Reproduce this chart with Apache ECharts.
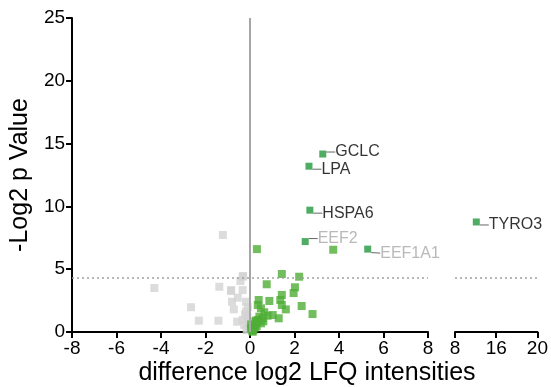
<!DOCTYPE html>
<html>
<head>
<meta charset="utf-8">
<script src="https://cdn.jsdelivr.net/npm/echarts@6/dist/echarts.min.js"></script>
<style>
  html, body { margin: 0; padding: 0; background: #fff; }
  #chart { width: 551px; height: 387px; }
</style>
</head>
<body>
<div id="chart"></div>
<script>
// not significant (grey)
const grayX = [-4.3, -2.65, -2.3, -1.42, -1.22, -1.38, -0.85, -0.85, -0.81, -0.73, -0.58, -0.55,
  -0.43, -0.33, -0.33, -0.31, -0.26, -0.18, -0.18, -0.33, -0.12, -0.08, -0.22, -0.05, -0.15, -0.1];
const grayY = [3.5, 1.97, 0.9, 0.9, 7.72, 3.6, 3.26, 3.34, 2.41, 1.8, 0.82, 2.73,
  4.06, 4.4, 3.34, 4.46, 0.56, 2.41, 1.62, 0.96, 1.2, 0.3, 1.4, 0.8, 0.15, 2.0];

// up-regulated (green)
const greenX = [0.31, 3.74, 1.43, 2.21, 0.75, 2.02, 1.96, 1.43, 0.87, 0.39, 1.36, 1.43, 1.61, 2.32,
  2.81, 1.29, 1.02, 0.49, 0.35, 0.64, 0.79, 0.42, 0.27, 0.49, 0.19, 0.04, 0.12, 0.35, 0.57, 0.05,
  0.22, 0.15, 0.3, 0.1, 0.25, 0.6];
const greenY = [6.6, 6.55, 4.62, 4.4, 3.8, 3.56, 3.1, 2.95, 2.47, 2.55, 2.55, 2.15, 1.8, 2.07,
  1.43, 1.09, 1.35, 1.89, 2.15, 1.57, 1.3, 1.22, 0.82, 0.69, 0.56, 0.29, 0.02, 0.96, 1.09, 0.6,
  0.35, 0.15, 0.45, 0.1, 0.9, 0.85];

// labelled hits
const hitNames = ["GCLC", "LPA", "HSPA6", "EEF2", "EEF1A1"];
const hitX = [3.27, 2.65, 2.69, 2.48, 5.29];
const hitY = [14.17, 13.2, 9.7, 7.2, 6.6];
const farName = "TYRO3";
const farX = 11.1;
const farY = 8.76;

const threshold = 4.3;
const yTicks = [0, 5, 10, 15, 20, 25];
const rightTickLabels = { 8: "8", 14: "16", 20: "20" };

const chart = echarts.init(document.getElementById("chart"));
const FONT = "Liberation Sans";
const grayLabels = ["EEF2", "EEF1A1"];
const labelDy = { GCLC: -2, LPA: 3, HSPA6: 3, EEF2: -3, EEF1A1: 4, TYRO3: 3 };

const pair = (xs, ys) => xs.map((x, i) => [x, ys[i]]);
const hitData = (names, xs, ys) => names.map((n, i) => ({
  name: n,
  value: [xs[i], ys[i]],
  label: { color: grayLabels.includes(n) ? "#a8a8a8" : "#000" }
}));

const hitSeries = (data, idx) => ({
  type: "scatter",
  xAxisIndex: idx,
  yAxisIndex: idx,
  symbol: "rect",
  symbolSize: 7,
  itemStyle: { color: "#23973d" },
  data: data,
  label: {
    show: true,
    position: "right",
    distance: 3,
    formatter: "{b}",
    fontFamily: FONT,
    fontSize: 16
  },
  labelLayout: (p) => ({ dx: 6, dy: labelDy[p.text] || 0 }),
  labelLine: { show: true, lineStyle: { color: "#666", width: 1 } },
  z: 5
});

const dotted = {
  silent: true,
  symbol: "none",
  label: { show: false },
  lineStyle: { color: "#a0a0a0", type: [2, 3], width: 1.5 },
  data: [{ yAxis: threshold }]
};

const axisBase = {
  splitLine: { show: false },
  axisLine: { show: true, onZero: false, lineStyle: { color: "#000", width: 2 } },
  axisTick: { show: true, lineStyle: { color: "#000", width: 2 }, length: 6 },
  axisLabel: { color: "#000", fontFamily: FONT, fontSize: 19, margin: 7 }
};

const option = {
  animation: false,
  grid: [
    { left: 71, right: 123, top: 18, bottom: 55 },
    { left: 455, right: 8, top: 18, bottom: 55 }
  ],
  xAxis: [
    Object.assign({ gridIndex: 0, type: "value", min: -8, max: 8, interval: 2 }, axisBase),
    Object.assign({ gridIndex: 1, type: "value", min: 8, max: 20, interval: 6 }, axisBase, {
      axisLabel: {
        color: "#000", fontFamily: FONT, fontSize: 19, margin: 7,
        formatter: (v) => rightTickLabels[v] || ""
      }
    })
  ],
  yAxis: [
    Object.assign({
      gridIndex: 0, type: "value", min: yTicks[0], max: yTicks[yTicks.length - 1], interval: 5,
      name: "-Log2 p Value",
      nameLocation: "middle",
      nameGap: 35,
      nameTextStyle: { color: "#000", fontFamily: FONT, fontSize: 25 }
    }, axisBase, {
      axisLabel: { color: "#000", fontFamily: FONT, fontSize: 19, margin: 7 }
    }),
    {
      gridIndex: 1, type: "value", min: 0, max: 25, interval: 5, show: false,
      splitLine: { show: false }
    }
  ],
  graphic: [{
    type: "text",
    x: 307,
    y: 373,
    style: {
      text: "difference log2 LFQ intensities",
      fill: "#000",
      font: "25px " + FONT,
      textAlign: "center",
      textVerticalAlign: "middle"
    }
  }],
  series: [
    {
      type: "scatter",
      xAxisIndex: 0, yAxisIndex: 0,
      symbol: "rect", symbolSize: 8,
      itemStyle: { color: "#d3d3d3" },
      data: pair(grayX, grayY),
      markLine: {
        silent: true,
        symbol: "none",
        label: { show: false },
        lineStyle: { color: "#a6a6a6", type: "solid", width: 2 },
        data: [{ xAxis: 0 }]
      },
      z: 2
    },
    {
      type: "scatter",
      xAxisIndex: 0, yAxisIndex: 0,
      symbol: "rect", symbolSize: 8,
      itemStyle: { color: "#4fae36" },
      data: pair(greenX, greenY),
      markLine: dotted,
      z: 3
    },
    hitSeries(hitData(hitNames, hitX, hitY), 0),
    Object.assign(hitSeries(hitData([farName], [farX], [farY]), 1), { markLine: dotted })
  ]
};

chart.setOption(option);
</script>
</body>
</html>
